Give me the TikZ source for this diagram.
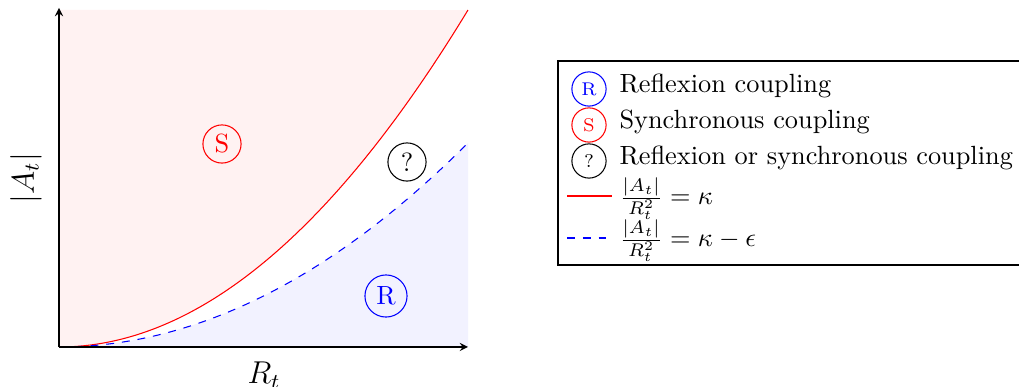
\documentclass[tikz,border=0pt]{standalone}
\usepackage{amsmath}
\begin{document}
\begin{tikzpicture}[x=0.38pt,y=-0.38pt,
  bigcirc/.style={circle,draw,minimum size=14.5pt,inner sep=0pt},
  legcirc/.style={circle,draw,minimum size=13pt,inner sep=0pt,font=\scriptsize},
  legtext/.style={anchor=west,inner sep=0pt},
  axis/.style={-stealth,thin}]
\useasboundingbox (0,0) rectangle (1019,387);
% fills
\fill[red!5] plot[domain=0:409,samples=80] ({59+\x},{347-337*(\x/409)^2}) -- (59,10) -- cycle;
\fill[blue!5] plot[domain=0:409,samples=80] ({59+\x},{347-204*(\x/409)^2}) -- (468,347) -- cycle;
% curves
\draw[red] plot[domain=0:409,samples=80] ({59+\x},{347-337*(\x/409)^2});
\draw[blue,dashed] plot[domain=0:409,samples=80] ({59+\x},{347-204*(\x/409)^2});
% axes
\coordinate (O) at (59,347);
\coordinate (X) at (468,347);
\coordinate (Y) at (59,8);
\draw[axis] (O) -- (X);
\draw[axis] (O) -- (Y);
\node[font=\large,anchor=base] (xl) at (264,384) {$R_t$};
\node[font=\large,rotate=90] (yl) at (26,178) {$|A_t|$};
% region markers
\node[bigcirc,red] (S) at (222,144) {S};
\node[bigcirc,black] (Q) at (407,162) {?};
\node[bigcirc,blue,minimum size=16pt] (R) at (386,296) {R};
% legend
\draw[thick] (558,61) rectangle (1030,265);
\node[legcirc,blue] (lR) at (589,89) {R};
\node[legcirc,red] (lS) at (589,125) {S};
\node[legcirc,black] (lQ) at (589,161) {?};
\node[legtext] (tR) at (619,86) {Reflexion coupling};
\node[legtext] (tS) at (619,122) {Synchronous coupling};
\node[legtext] (tQ) at (619,158) {Reflexion or synchronous coupling};
\coordinate (a1) at (567,196);
\coordinate (a2) at (612,196);
\coordinate (b1) at (567,238);
\coordinate (b2) at (612,238);
\draw[red] (a1) -- (a2);
\draw[blue,dashed] (b1) -- (b2);
\node[legtext] (tK) at (619,199) {$\frac{|A_t|}{R_t^2}=\kappa$};
\node[legtext] (tE) at (619,241) {$\frac{|A_t|}{R_t^2}=\kappa-\epsilon$};
\end{tikzpicture}
\end{document}
